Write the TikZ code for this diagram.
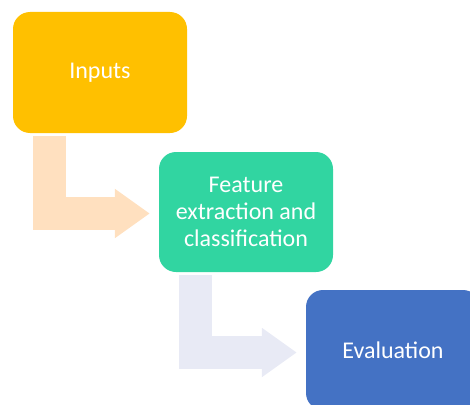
\documentclass[tikz,border=0pt]{standalone}
\usepackage{fontspec}
\setmainfont{Carlito}
\usetikzlibrary{arrows.meta,calc}
\definecolor{cinputs}{HTML}{FFC000}
\definecolor{cfeat}{HTML}{31D5A1}
\definecolor{ceval}{HTML}{4472C4}
\definecolor{carrowA}{HTML}{FFE0BF}
\definecolor{carrowB}{HTML}{E8EAF5}
\tikzset{
  stepbox/.style={rounded corners=17pt, minimum width=174pt, minimum height=120pt,
    text=white, align=center, inner sep=0pt,
    font=\fontsize{24}{26.7}\selectfont},
  bentarrow/.style={line width=33pt, line join=miter, line cap=butt,
    -{Triangle[length=35pt,width=47pt]}}
}
\begin{document}
\begin{tikzpicture}[x=1pt,y=-1pt]
\useasboundingbox (0,0) rectangle (470,404);
\clip (0,0) rectangle (470,404);
\node[stepbox, fill=cinputs, minimum height=121pt] (inputs) at (100,72.5) {Inputs};
\node[stepbox, fill=cfeat] (feat) at (246,212) {Feature\\extraction and\\classification};
\node[stepbox, fill=ceval] (eval) at (393,350) {Evaluation};
\draw[bentarrow, draw=carrowA] ($(inputs.south west)+(36.5,3)$) |- ($(feat.west)+(-9,1.5)$);
\draw[bentarrow, draw=carrowB] ($(feat.south west)+(36.5,3)$) |- ($(eval.west)+(-9,2.5)$);
\end{tikzpicture}
\end{document}
